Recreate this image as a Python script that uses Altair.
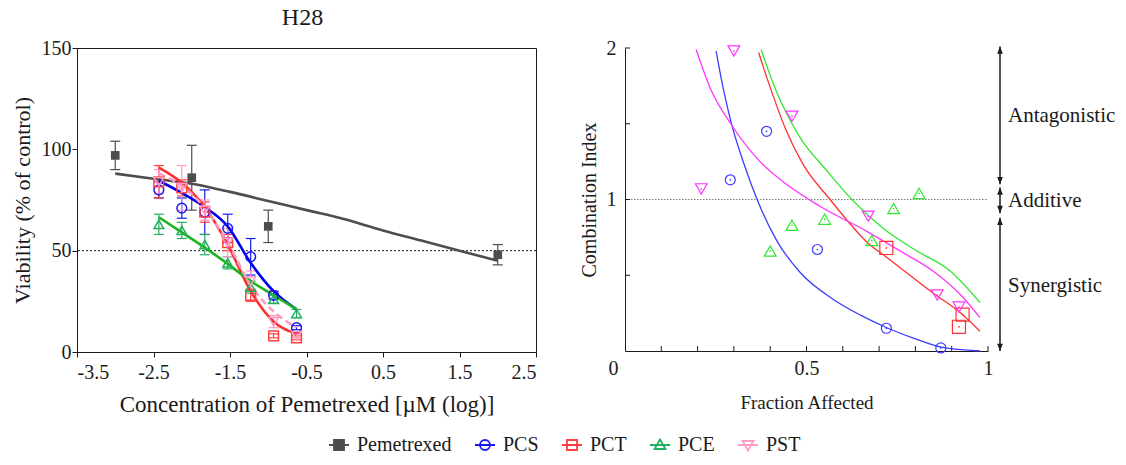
import altair as alt
import pandas as pd

SERIF = "Liberation Serif, Times New Roman, serif"
INK = "#1a1a1a"

# ---------------- dose-response panel ----------------
series_names = ["Pemetrexed", "PCS", "PCT", "PCE", "PST"]

pem_logc = [-3.0, -2.0, -1.0, 2.0]
pem_viab = [97, 86, 62, 48]
pem_sem = [7, 16, 8, 5]
pem_fit_logc = [-3.0, -2.5, -2.0, -1.5, -1.0, -0.5, 0.0, 0.5, 1.0, 1.5, 2.0]
pem_fit_viab = [88, 85.5, 83, 79, 74.5, 70, 65.5, 60, 55, 50, 45]

combo_logc = [-2.43, -2.13, -1.83, -1.53, -1.23, -0.93, -0.63]
pcs_viab = [80, 71, 69, 61, 47, 28, 12]
pcs_sem = [4, 5, 11, 7, 9, 2, 1]
pcs_fit = [84.5, 78.5, 71.5, 62, 44, 30, 21]
pct_viab = [84, 81, 69, 54, 28, 8, 7]
pct_sem = [8, 4, 5, 4, 3, 1, 1]
pct_fit = [91, 83.5, 71.5, 53, 30, 15, 9]
pce_viab = [63, 60, 53, 44, 32, 26, 19]
pce_sem = [5, 4, 5, 3, 3, 2, 2]
pce_fit = [66.5, 59, 51.5, 43.5, 35, 28, 21]
pst_viab = [84, 81, 70, 54, 35, 15, 8]
pst_sem = [6, 11, 5, 7, 5, 3, 1]
pst_fit = [88, 82, 71, 54, 33, 20, 12]

x_ticks_left = [-3.5, -2.5, -1.5, -0.5, 0.5, 1.5, 2.5]
y_ticks_left = [0, 50, 100, 150]

# ---------------- combination-index panel ----------------
pcs_fa = [0.29, 0.39, 0.53, 0.72, 0.87]
pcs_ci = [1.13, 1.45, 0.67, 0.15, 0.02]
pct_fa = [0.72, 0.92, 0.93]
pct_ci = [0.68, 0.16, 0.24]
pce_fa = [0.40, 0.46, 0.55, 0.68, 0.74, 0.81]
pce_ci = [0.66, 0.83, 0.87, 0.73, 0.94, 1.04]
pst_fa = [0.21, 0.30, 0.46, 0.67, 0.86, 0.92]
pst_ci = [1.07, 1.98, 1.55, 0.89, 0.37, 0.29]

pcs_curve_fa = [0.251, 0.27, 0.294, 0.33, 0.364, 0.42, 0.482, 0.574, 0.65, 0.723, 0.80, 0.871, 0.978]
pcs_curve_ci = [1.98, 1.74, 1.494, 1.22, 1.0, 0.72, 0.52, 0.34, 0.235, 0.152, 0.08, 0.025, 0.0]
pct_curve_fa = [0.368, 0.40, 0.445, 0.491, 0.565, 0.62, 0.666, 0.72, 0.758, 0.85, 0.92, 0.978]
pct_curve_ci = [1.97, 1.74, 1.45, 1.23, 1.0, 0.84, 0.72, 0.62, 0.55, 0.38, 0.26, 0.13]
pce_curve_fa = [0.375, 0.409, 0.482, 0.556, 0.629, 0.711, 0.804, 0.895, 0.978]
pce_curve_ci = [1.99, 1.76, 1.41, 1.19, 0.99, 0.81, 0.66, 0.53, 0.32]
pst_curve_fa = [0.196, 0.234, 0.294, 0.372, 0.445, 0.537, 0.666, 0.758, 0.85, 0.923, 0.978]
pst_curve_ci = [1.99, 1.74, 1.49, 1.25, 1.10, 0.955, 0.79, 0.66, 0.525, 0.375, 0.22]

ci_minor_ticks = [0.5, 1.0, 1.5, 2.0]
fa_minor_ticks = [0.1, 0.2, 0.3, 0.4, 0.5, 0.6, 0.7, 0.8, 0.9, 1.0]

effect_names = ["Antagonistic", "Additive", "Synergistic"]
effect_lo = [1.10, 0.91, 0.0]
effect_hi = [2.01, 1.08, 0.88]
effect_label_ci = [1.55, 0.99, 0.43]

W1, H1 = 459, 304
W2, H2 = 363, 303

# ---------- left panel ----------
xs_l = alt.Scale(domain=[-3.5, 2.5], nice=False, zero=False)
ys_l = alt.Scale(domain=[0, 150], nice=False)

ax_x_l = alt.Axis(
    title="Concentration of Pemetrexed [µM (log)]", values=x_ticks_left,
    labelExpr="(datum.value < 0 ? '-' : '') + format(abs(datum.value), '.1f')",
    tickSize=5, labelPadding=5, titlePadding=11, labelFontSize=20, titleFontSize=23,
)
ax_y_l = alt.Axis(
    title="Viability (% of control)", values=y_ticks_left,
    tickSize=5, labelPadding=1, titlePadding=7, labelFontSize=20, titleFontSize=22,
)


def X(field):
    return alt.X(field, type="quantitative", scale=xs_l, axis=ax_x_l)


def Y(field):
    return alt.Y(field, type="quantitative", scale=ys_l, axis=ax_y_l)


dose_sets = [
    ("Pemetrexed", pem_logc, pem_viab, pem_sem, pem_fit_logc, pem_fit_viab,
     "#4d4d4d", "#4d4d4d", "square", True, None),
    ("PCS", combo_logc, pcs_viab, pcs_sem, combo_logc, pcs_fit,
     "#1a1af0", "#0000f0", "circle", False, None),
    ("PCT", combo_logc, pct_viab, pct_sem, combo_logc, pct_fit,
     "#ff4040", "#ff2e2e", "square", False, None),
    ("PCE", combo_logc, pce_viab, pce_sem, combo_logc, pce_fit,
     "#22b060", "#1cb41c", "triangle-up", False, None),
    ("PST", combo_logc, pst_viab, pst_sem, combo_logc, pst_fit,
     "#ff9ac4", "#ff9ac4", "triangle-down", False, [7, 4]),
]

ref50 = alt.Chart(pd.DataFrame({"v": [50]})).mark_rule(
    color=INK, strokeDash=[2, 2], strokeWidth=1
).encode(y=Y("v"))

err_layers, fit_layers, pt_layers = [], [], []
for name, lx, vy, se, fx, fy, mcol, lcol, shp, filled, dash in dose_sets:
    lo = [v - e for v, e in zip(vy, se)]
    hi = [v + e for v, e in zip(vy, se)]
    bars = pd.DataFrame({"logc": lx, "lo": lo, "hi": hi})
    caps = pd.DataFrame({"logc": lx + lx, "v": lo + hi})
    err_layers.append(
        alt.Chart(bars).mark_rule(color=mcol, strokeWidth=1.2).encode(
            x=X("logc"), y=Y("lo"), y2="hi")
    )
    err_layers.append(
        alt.Chart(caps).mark_tick(color=mcol, orient="horizontal", size=10,
                                  thickness=1.2, opacity=1).encode(x=X("logc"), y=Y("v"))
    )
    line_kw = dict(color=lcol, strokeWidth=2.6, interpolate="monotone")
    if dash:
        line_kw["strokeDash"] = dash
    fit_layers.append(
        alt.Chart(pd.DataFrame({"logc": fx, "viab": fy})).mark_line(**line_kw).encode(
            x=X("logc"), y=Y("viab"))
    )
    pt_kw = dict(shape=shp, filled=filled, color=mcol, opacity=1,
                 size=75 if filled else 95)
    if not filled:
        pt_kw["strokeWidth"] = 1.5
    pt_layers.append(
        alt.Chart(pd.DataFrame({"logc": lx, "viab": vy})).mark_point(**pt_kw).encode(
            x=X("logc"), y=Y("viab"))
    )

# legend symbols: a short line through each marker
legend_paths = [
    "M-2,0H2M-1,-1H1V1H-1Z",
    "M-2,0H2M-1,0A1,1,0,1,0,1,0A1,1,0,1,0,-1,0Z",
    "M-2,0H2M-1,-1H1V1H-1Z",
    "M-2,0H2M0,-1.1L1.1,0.8H-1.1Z",
    "M-2,0H2M-1.1,-0.8H1.1L0,1.1Z",
]
legend_strokes = ["#4d4d4d", "#1a1af0", "#ff4040", "#22b060", "#ff9ac4"]
legend_fills = ["#4d4d4d", "transparent", "transparent", "transparent", "transparent"]

leg = alt.Legend(
    title=None, orient="none", legendX=252, legendY=387, direction="horizontal",
    symbolSize=100, symbolStrokeWidth=1.8, labelFont=SERIF, labelFontSize=20,
    labelColor=INK, labelOffset=8, columnPadding=19,
)
legend_layer = alt.Chart(pd.DataFrame({"series": series_names})).transform_filter(
    "false"
).mark_point(opacity=1).encode(
    shape=alt.Shape("series:N", scale=alt.Scale(domain=series_names, range=legend_paths), legend=leg),
    stroke=alt.Stroke("series:N", scale=alt.Scale(domain=series_names, range=legend_strokes), legend=leg),
    fill=alt.Fill("series:N", scale=alt.Scale(domain=series_names, range=legend_fills), legend=leg),
)

left = alt.layer(ref50, *err_layers, *fit_layers, *pt_layers, legend_layer).properties(
    width=W1, height=H1,
    title=alt.TitleParams("H28", font=SERIF, fontSize=24, fontWeight="normal",
                          color=INK, offset=8, frame="group", dx=-4),
)

# ---------- right panel ----------
xs_r = alt.Scale(domain=[0, 1], nice=False, zero=False)
ys_r = alt.Scale(domain=[0, 2], nice=False)

ax_x_r = alt.Axis(
    title="Fraction Affected", values=[0, 0.5, 1], format="~g", ticks=False, tickSize=0,
    labelPadding=7, titlePadding=15, labelFontSize=20, titleFontSize=19,
    labelAlign={"condition": {"test": "datum.value === 0", "value": "right"}, "value": "center"},
    labelOffset={"condition": {"test": "datum.value === 0", "value": -7}, "value": 0},
)
ax_y_r = alt.Axis(
    title="Combination Index", values=[1, 2], format="~g", ticks=False, tickSize=0,
    labelPadding=9, titlePadding=7, labelFontSize=20, titleFontSize=20,
)


def XR(field):
    return alt.X(field, type="quantitative", scale=xs_r, axis=ax_x_r)


def YR(field):
    return alt.Y(field, type="quantitative", scale=ys_r, axis=ax_y_r)


ci_sets = [
    (pcs_fa, pcs_ci, pcs_curve_fa, pcs_curve_ci, "#3c3cff", "circle", 100),
    (pct_fa, pct_ci, pct_curve_fa, pct_curve_ci, "#ff3030", "square", 170),
    (pce_fa, pce_ci, pce_curve_fa, pce_curve_ci, "#33e633", "triangle-up", 140),
    (pst_fa, pst_ci, pst_curve_fa, pst_curve_ci, "#ff33ff", "triangle-down", 140),
]

ref1 = alt.Chart(pd.DataFrame({"ci": [1.0]})).mark_rule(
    color="#808080", strokeDash=[1.5, 1.5], strokeWidth=1
).encode(y=YR("ci"), x=alt.value(0), x2=alt.value(W2))

yticks = alt.Chart(pd.DataFrame({"ci": ci_minor_ticks})).mark_rule(
    color=INK, strokeWidth=1).encode(y=YR("ci"), x=alt.value(0), x2=alt.value(5))
xticks = alt.Chart(pd.DataFrame({"fa": fa_minor_ticks})).mark_rule(
    color=INK, strokeWidth=1).encode(x=XR("fa"), y=alt.value(H2), y2=alt.value(H2 - 5))

curve_layers, ci_pt_layers = [], []
for fa, ci, cfa, cci, col, shp, sz in ci_sets:
    curve_layers.append(
        alt.Chart(pd.DataFrame({"fa": cfa, "ci": cci})).mark_line(
            color=col, strokeWidth=1.3, interpolate="monotone").encode(x=XR("fa"), y=YR("ci"))
    )
    pts = pd.DataFrame({"fa": fa, "ci": ci})
    ci_pt_layers.append(
        alt.Chart(pts).mark_point(shape=shp, filled=False, color=col, size=sz,
                                  strokeWidth=1.2, opacity=1).encode(x=XR("fa"), y=YR("ci"))
    )
    ci_pt_layers.append(
        alt.Chart(pts).mark_point(shape="circle", filled=True, color=col, size=3,
                                  opacity=1).encode(x=XR("fa"), y=YR("ci"))
    )

effects = pd.DataFrame({"name": effect_names, "lo": effect_lo, "hi": effect_hi,
                        "lab": effect_label_ci})
arrow_x = W2 + 12
arrow_shafts = alt.Chart(effects).mark_rule(color=INK, strokeWidth=1.5).encode(
    x=alt.value(arrow_x), y=YR("lo"), y2="hi")
head_up = alt.Chart(effects).mark_point(
    shape="M0,0L-0.9,2.3L0.9,2.3Z", filled=True, color=INK, size=40, opacity=1
).encode(x=alt.value(arrow_x), y=YR("hi"))
head_down = alt.Chart(effects).mark_point(
    shape="M0,0L-0.9,-2.3L0.9,-2.3Z", filled=True, color=INK, size=40, opacity=1
).encode(x=alt.value(arrow_x), y=YR("lo"))
effect_text = alt.Chart(effects).mark_text(
    align="left", baseline="middle", font=SERIF, fontSize=21, color=INK
).encode(x=alt.value(arrow_x + 8), y=YR("lab"), text="name:N")

right = alt.layer(
    ref1, yticks, xticks, *curve_layers, *ci_pt_layers,
    arrow_shafts, head_up, head_down, effect_text,
).properties(width=W2, height=H2, view=alt.ViewBackground(stroke="transparent"))

chart = alt.hconcat(left, right, spacing=89, bounds="flush").properties(
    padding={"left": 10, "top": 5, "right": 0, "bottom": 0}
).configure_view(stroke=INK, strokeWidth=1).configure_axis(
    labelFont=SERIF, titleFont=SERIF, titleFontWeight="normal", grid=False,
    domainColor=INK, tickColor=INK, labelColor=INK, titleColor=INK, domainWidth=1,
).configure_text(font=SERIF).configure_legend(labelFont=SERIF)

chart.save("out.html", embed_options={"renderer": "svg", "actions": False})
